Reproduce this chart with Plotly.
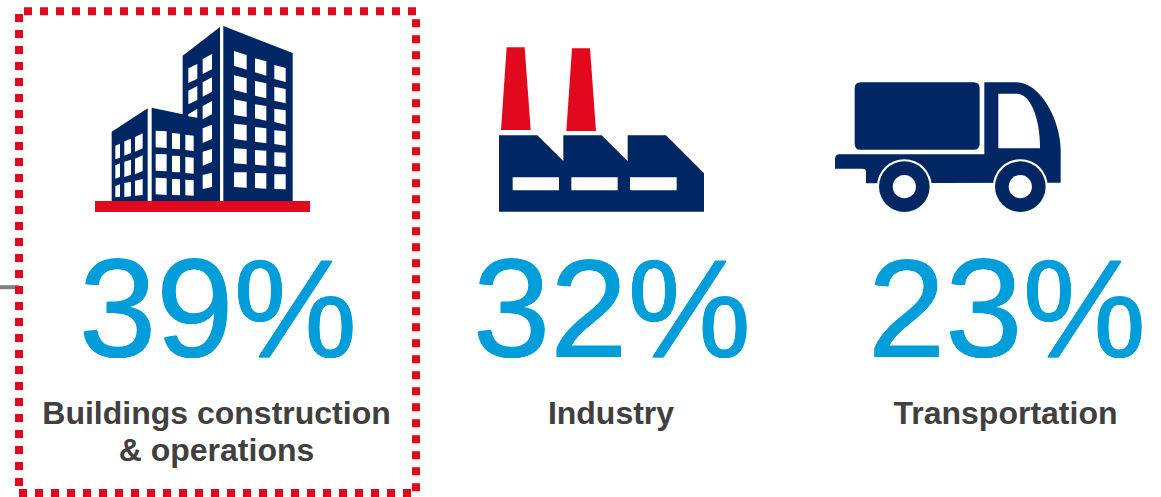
import plotly.graph_objects as go

# Sector shares of global CO2 emissions
sectors = ["Buildings construction", "Industry", "Transportation"]
shares = [39, 32, 23]
sublabel = "& operations"
share_x = [218, 612, 1007]
label_x = [216.5, 611, 1005.5]

NAVY = "#002664"
RED = "#E2091F"
BLUE = "#009DDB"
DARK = "#404040"
FONT = "Liberation Sans, Arial, sans-serif"

shapes = []


def poly(points, color, ox=0.0, oy=0.0, scale=1 / 3):
    """Filled polygon from icon-space points."""
    path = "M" + " L".join(f"{ox + x * scale:.2f},{oy + y * scale:.2f}" for x, y in points) + " Z"
    shapes.append(dict(type="path", path=path, fillcolor=color, line=dict(width=0), layer="above"))


def window(x0, x1, ys, color="white"):
    """Slanted window: ys are top-left, top-right, bottom-right, bottom-left."""
    poly([(x0, ys[0]), (x1, ys[1]), (x1, ys[2]), (x0, ys[3])], color)


def circle(cx, cy, r, color):
    shapes.append(dict(type="circle", x0=cx - r, x1=cx + r, y0=cy - r, y1=cy + r,
                       fillcolor=color, line=dict(width=0), layer="above"))


# Grey stub behind the highlight frame
shapes.append(dict(type="line", x0=0, x1=19, y0=287.2, y1=287.2, line=dict(color="#808080", width=4)))

# Dotted highlight frame round the first column
for x0, y0, x1, y1 in [(24, 11.3, 420, 11.3), (416, 19.3, 416, 497),
                       (19, 493, 412, 493), (19, 14, 19, 486)]:
    shapes.append(dict(type="line", x0=x0, y0=y0, x1=x1, y1=y1,
                       line=dict(color=RED, width=8, dash="8px,8px")))

# Buildings icon
poly([(335, 395), (443, 325), (443, 603), (335, 603)], NAVY)
poly([(455, 323), (548, 343), (548, 167), (660, 81), (660, 603), (455, 603)], NAVY)
poly([(670, 78), (878, 159), (878, 603), (670, 603)], NAVY)

for x0, x1, rows in [
    (702, 740, [(153, 165, 209, 197), (226, 235, 280, 270), (298, 305, 351, 345),
                (371, 375, 422, 417), (445, 447, 493, 490), (517, 517, 563, 561)]),
    (765, 799, [(175, 184, 227, 217), (243, 250, 295, 287), (313, 318, 362, 355),
                (381, 385, 430, 425), (450, 452, 497, 494), (519, 520, 566, 564)]),
    (823, 857, [(195, 204, 246, 237), (260, 267, 310, 302), (326, 331, 374, 366),
                (391, 394, 437, 432), (457, 458, 501, 498), (523, 523, 568, 567)]),
    (608, 636, [(177, 162, 208, 222), (247, 232, 275, 290), (318, 303, 343, 358),
                (385, 374, 417, 429), (455, 447, 486, 497), (525, 518, 561, 567)]),
    (565, 592, [(205, 192, 236, 249), (272, 258, 300, 313), (343, 326, 353, 349)]),
    (467, 500, [(392, 394, 444, 442), (462, 463, 514, 512), (533, 535, 585, 583)]),
    (516, 540, [(399, 401, 448, 446), (467, 468, 517, 516), (537, 538, 586, 585)]),
    (556, 581, [(404, 407, 453, 450), (471, 473, 521, 519), (539, 541, 587, 586)]),
    (346, 360, [(437, 431, 473, 478), (496, 490, 531, 536), (558, 553, 590, 592)]),
    (373, 393, [(424, 416, 459, 467), (485, 479, 524, 531), (549, 545, 589, 591)]),
    (405, 428, [(411, 400, 445, 455), (476, 466, 513, 523), (542, 537, 585, 587)]),
]:
    for ys in rows:
        window(x0, x1, ys)

poly([(285, 603), (930, 603), (930, 636), (285, 636)], RED)

# Factory icon
FX, FY = 480, 30
poly([(80, 52), (134, 52), (152, 300), (63, 300)], RED, FX, FY)
poly([(276, 55), (330, 55), (348, 303), (259, 303)], RED, FX, FY)
poly([(57, 316), (172, 316), (250, 393), (250, 316), (365, 316), (443, 393), (443, 316),
      (558, 316), (672, 430), (672, 545), (57, 545)], NAVY, FX, FY)
for x0, x1 in [(98, 237), (274, 413), (450, 590)]:
    poly([(x0, 442), (x1, 442), (x1, 481), (x0, 481)], "white", FX, FY)

# Truck icon
TX, TY = 820, 60


def t(x, y):
    return f"{TX + x / 3:.2f},{TY + y / 3:.2f}"


# Cargo box
shapes.append(dict(type="path", fillcolor=NAVY, line=dict(width=0), layer="above", path=(
    f"M{t(122, 67)} L{t(461, 67)} Q{t(479, 67)} {t(479, 85)} L{t(479, 251)} Q{t(479, 269)} {t(461, 269)} "
    f"L{t(122, 269)} Q{t(104, 269)} {t(104, 251)} L{t(104, 85)} Q{t(104, 67)} {t(122, 67)} Z")))
# Cab and chassis
shapes.append(dict(type="path", fillcolor=NAVY, line=dict(width=0), layer="above", path=(
    f"M{t(45, 297)} Q{t(45, 283)} {t(59, 283)} L{t(493, 283)} L{t(493, 67)} L{t(590, 67)} "
    f"C{t(660, 67)} {t(722, 180)} {t(722, 270)} L{t(722, 368)} L{t(138, 370)} L{t(138, 336)} "
    f"Q{t(138, 326)} {t(128, 326)} L{t(45, 326)} Z")))
# Cab window
shapes.append(dict(type="path", fillcolor="white", line=dict(width=0), layer="above", path=(
    f"M{t(535, 101)} L{t(590, 101)} C{t(630, 101)} {t(660, 170)} {t(660, 265)} L{t(535, 265)} Z")))
for cx in (253, 601):
    wx, wy = TX + cx / 3, TY + 380 / 3
    circle(wx, wy, 27.5, "white")
    circle(wx, wy, 25.3, NAVY)
    circle(wx, wy, 11.6, "white")

fig = go.Figure()

# Percentages, thickened a little with crisp offset shadows
heavier = ", ".join(f"{dx}px {dy}px 0 {BLUE}" for dx, dy in
                    [(0.6, 0), (-0.6, 0), (0, 0.6), (0, -0.6)])
fig.add_trace(go.Scatter(
    x=share_x, y=[322] * 3, mode="text",
    text=[f"{v}%" for v in shares], textposition="middle center",
    textfont=dict(family=FONT, size=139, color=BLUE, shadow=heavier),
    hoverinfo="skip", showlegend=False,
))
# Sector names
fig.add_trace(go.Scatter(
    x=label_x, y=[416] * 3, mode="text",
    text=sectors, textposition="middle center",
    textfont=dict(family=FONT, size=32, color=DARK, weight="bold"),
    hoverinfo="skip", showlegend=False,
))
fig.add_trace(go.Scatter(
    x=[216.5], y=[453], mode="text",
    text=[sublabel], textposition="middle center",
    textfont=dict(family=FONT, size=32, color=DARK, weight="bold"),
    hoverinfo="skip", showlegend=False,
))

fig.update_layout(
    width=1161, height=497,
    margin=dict(l=0, r=0, t=0, b=0),
    paper_bgcolor="white", plot_bgcolor="white",
    xaxis=dict(range=[0, 1161], visible=False, fixedrange=True),
    yaxis=dict(range=[497, 0], visible=False, fixedrange=True),
    shapes=shapes,
)

fig.write_html("out.html", config={"displayModeBar": False})
